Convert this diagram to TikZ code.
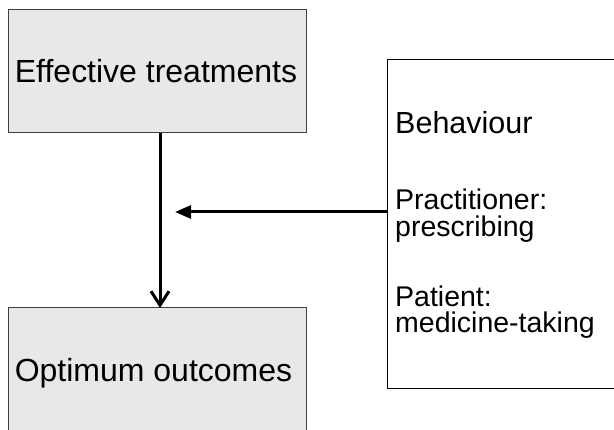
\documentclass[tikz,border=0pt]{standalone}
\usepackage{fontspec}
\setmainfont{Liberation Sans}
\usetikzlibrary{arrows.meta}
\definecolor{boxfill}{HTML}{E8E8E8}
\tikzset{
  graybox/.style={draw=black!75, line width=1pt, fill=boxfill},
  whitebox/.style={draw=black, line width=1pt, fill=white},
  bigtext/.style={font=\fontsize{32}{36}\selectfont, anchor=base, inner sep=0pt},
  smalltext/.style={font=\fontsize{28.5}{33}\selectfont, anchor=base west, inner sep=0pt,
    text height=20pt, text depth=5pt},
  flow/.style={line width=3pt},
}
\begin{document}
\begin{tikzpicture}[x=1pt,y=1pt]
\useasboundingbox (0,0) rectangle (614,-430);
\fill[white] (0,0) rectangle (614,-430);
% boxes
\draw[graybox] (8,-10) rectangle (306,-133);
\coordinate (topS) at (160,-133);
\draw[graybox] (8,-308) rectangle (306,-445);
\coordinate (botN) at (160,-308);
\draw[whitebox] (387,-60) rectangle (630,-389);
\coordinate (rightW) at (387,-212);
\coordinate (arrowEnd) at (175,-212);
% texts
\node[bigtext] (eff) at (156,-83) {Effective treatments};
\node[bigtext] (opt) at (153.5,-382) {Optimum outcomes};
\node[smalltext, font=\fontsize{30.5}{34}\selectfont] (beh) at (395,-134) {Behaviour};
\node[smalltext] (pr1) at (395,-210) {Practitioner:};
\node[smalltext] (pr2) at (395,-237) {prescribing};
\node[smalltext] (pa1) at (395,-307) {Patient:};
\node[smalltext] (pa2) at (395,-333) {medicine-taking};
% arrows
\draw[flow, -{Straight Barb[length=14pt,width=18pt,line width=3pt]}] (topS) -- (botN);
\draw[flow, -{Triangle[length=16pt,width=13pt]}] (rightW) -- (arrowEnd);
\end{tikzpicture}
\end{document}
